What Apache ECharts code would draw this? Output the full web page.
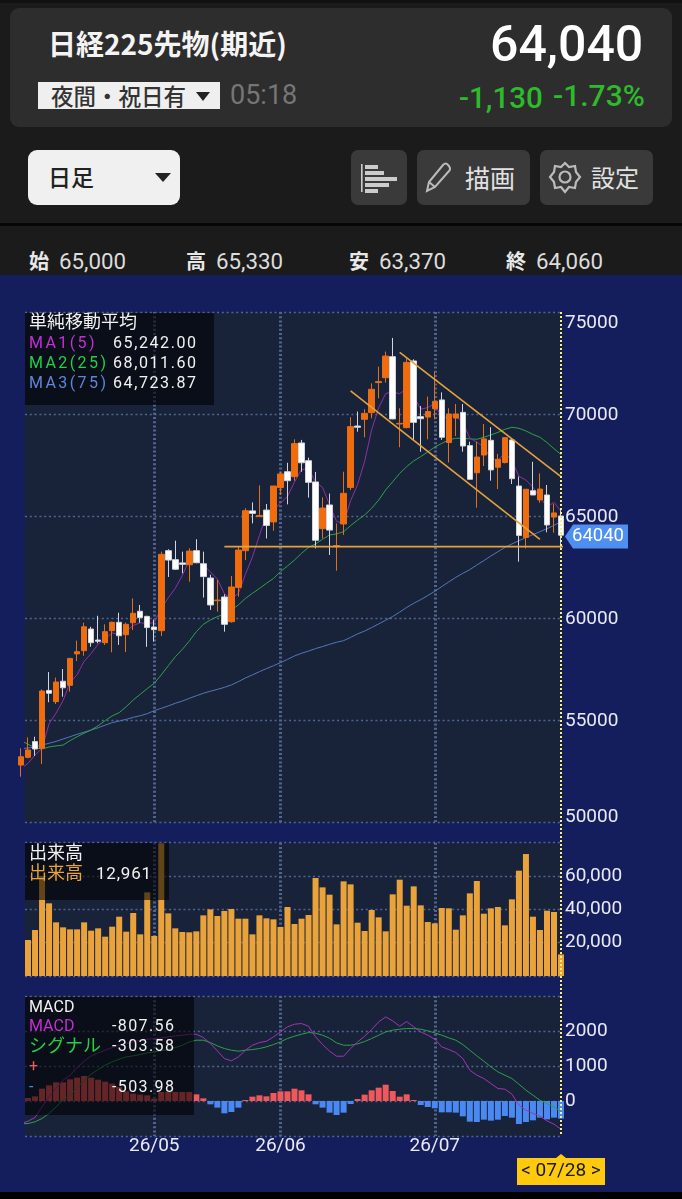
<!DOCTYPE html>
<html lang="ja"><head><meta charset="utf-8">
<script src="https://cdn.jsdelivr.net/npm/echarts@6/dist/echarts.min.js"></script>
<style>
html,body{margin:0;padding:0;background:#000;}
#wrap{position:relative;width:682px;height:1199px;overflow:hidden;font-family:Roboto,"Noto Sans CJK JP",sans-serif;}
#chart{position:absolute;left:0;top:0;width:682px;height:1199px;}
#head{position:absolute;left:0;top:0;width:682px;height:275px;background:#1b1b1b;}
#foot{position:absolute;left:0;top:1192px;width:682px;height:7px;background:#000;}
.a{position:absolute;white-space:nowrap;line-height:1;}
.jp{font-family:"Noto Sans CJK JP",sans-serif;}
.box{position:absolute;background:rgba(0,0,0,.58);}
.row{position:absolute;white-space:nowrap;font-size:16px;line-height:20px;letter-spacing:1.6px;color:#f2f2f2;font-family:Roboto,"Noto Sans CJK JP",sans-serif;}
.lab{letter-spacing:2.4px;}
.val{letter-spacing:1.4px;}
.btn{position:absolute;top:150px;height:55px;background:#3a3a3a;border-radius:7px;}
</style></head><body>
<div id="wrap">
<div id="chart"></div>
<div id="head">
 <div style="position:absolute;left:0;top:0;width:682px;height:3px;background:#111"></div>
 <div style="position:absolute;left:10px;top:8px;width:662px;height:119px;background:#2d2d2d;border-radius:9px"></div>
 <div class="a jp" style="left:48px;top:29px;font-size:28px;font-weight:700;color:#f4f4f4;">日経225先物(期近)</div>
 <div class="a" style="left:490px;top:19px;font-size:50px;font-weight:500;color:#fff">64,040</div>
 <div style="position:absolute;left:38px;top:82px;width:182px;height:27px;background:#efefef"></div>
 <div class="a jp" style="left:51px;top:84px;font-size:22.5px;font-weight:500;color:#333;">夜間・祝日有</div>
 <div style="position:absolute;left:196px;top:92px;width:0;height:0;border-left:7px solid transparent;border-right:7px solid transparent;border-top:9px solid #222"></div>
 <div class="a" style="left:230px;top:82px;font-size:27px;color:#767676;">05:18</div>
 <div class="a" style="left:459px;top:84px;font-size:29.5px;font-weight:500;color:#2dbb2b;">-1,130</div>
 <div class="a" style="left:553px;top:81px;font-size:30px;font-weight:500;color:#2dbb2b;">-1.73%</div>
 <div style="position:absolute;left:28px;top:150px;width:152px;height:55px;background:#f0f0f0;border-radius:9px"></div>
 <div class="a jp" style="left:48px;top:165px;font-size:23px;font-weight:500;color:#222">日足</div>
 <div style="position:absolute;left:155px;top:173px;width:0;height:0;border-left:8px solid transparent;border-right:8px solid transparent;border-top:9px solid #222"></div>
 <div class="btn" style="left:351px;width:56px"></div>
 <svg style="position:absolute;left:351px;top:150px" width="56" height="55"><rect x="10" y="14" width="1.6" height="28" fill="#ccc"/><rect x="14" y="15" width="13" height="4" fill="#ccc"/><rect x="14" y="21" width="19" height="4" fill="#ccc"/><rect x="14" y="27" width="32" height="4" fill="#ccc"/><rect x="14" y="33" width="24" height="4" fill="#ccc"/><rect x="14" y="39" width="13" height="4" fill="#ccc"/></svg>
 <div class="btn" style="left:417px;width:113px"></div>
 <svg style="position:absolute;left:422px;top:160px" width="34" height="36" fill="none" stroke="#bbb" stroke-width="2"><path d="M5 31 L7 22 L21 5 Q24 2 26 5 L27 6 Q29 9 27 11 L13 27 Z M7 22 L13 27"/></svg>
 <div class="a jp" style="left:465px;top:165px;font-size:25px;color:#e2e2e2">描画</div>
 <div class="btn" style="left:540px;width:113px"></div>
 <svg style="position:absolute;left:548px;top:160px" width="34" height="36" fill="none" stroke="#bbb" stroke-width="2.2"><path d="M17 3 L21 7 L27 6 L28 12 L32 17 L28 22 L27 28 L21 27 L17 32 L13 27 L7 28 L6 22 L2 17 L6 12 L7 6 L13 7 Z"/><circle cx="17" cy="17" r="5.5"/></svg>
 <div class="a jp" style="left:591px;top:165px;font-size:24px;color:#e2e2e2">設定</div>
 <div style="position:absolute;left:0;top:223px;width:682px;height:3px;background:#060606"></div>
 <div class="a jp" style="left:29px;top:251px;font-size:20px;font-weight:700;color:#e8e8e8">始</div><div class="a" style="left:59px;top:250px;font-size:22.3px;color:#dcdcdc">65,000</div>
 <div class="a jp" style="left:186px;top:251px;font-size:20px;font-weight:700;color:#e8e8e8">高</div><div class="a" style="left:216px;top:250px;font-size:22.3px;color:#dcdcdc">65,330</div>
 <div class="a jp" style="left:349px;top:251px;font-size:20px;font-weight:700;color:#e8e8e8">安</div><div class="a" style="left:379px;top:250px;font-size:22.3px;color:#dcdcdc">63,370</div>
 <div class="a jp" style="left:506px;top:251px;font-size:20px;font-weight:700;color:#e8e8e8">終</div><div class="a" style="left:536px;top:250px;font-size:22.3px;color:#dcdcdc">64,060</div>
</div>
<div id="foot"></div>

<div class="box" style="left:25px;top:313px;width:189px;height:92px"></div>
<div class="row" style="left:29px;top:312px;letter-spacing:0;font-size:18px">単純移動平均</div>
<div class="row lab" style="left:29px;top:333px;color:#c42ed4">MA1(5)</div><div class="row" style="left:113px;top:333px">65,242.00</div>
<div class="row lab" style="left:29px;top:353px;color:#22cf45">MA2(25)</div><div class="row" style="left:113px;top:353px">68,011.60</div>
<div class="row lab" style="left:29px;top:373px;color:#5e86d8">MA3(75)</div><div class="row" style="left:113px;top:373px">64,723.87</div>

<div class="box" style="left:25px;top:843px;width:144px;height:57px"></div>
<div class="row" style="left:29px;top:843px;letter-spacing:0;font-size:18px">出来高</div>
<div class="row" style="left:29px;top:863px;letter-spacing:0;font-size:18px;color:#e8a33a">出来高</div><div class="row" style="left:96px;top:863px;font-size:17px;letter-spacing:.8px">12,961</div>

<div class="box" style="left:25px;top:997px;width:169px;height:118px"></div>
<div class="row" style="left:29px;top:997px;letter-spacing:0">MACD</div>
<div class="row" style="left:29px;top:1016px;color:#c42ed4;letter-spacing:0">MACD</div><div class="row val" style="left:112px;top:1016px">-807.56</div>
<div class="row" style="left:29px;top:1036px;color:#22cf45;font-size:18px;letter-spacing:0">シグナル</div><div class="row val" style="left:112px;top:1036px">-303.58</div>
<div class="row" style="left:29px;top:1056px;color:#f05a5e">+</div>
<div class="row" style="left:29px;top:1077px;color:#4c8bf5">-</div><div class="row val" style="left:112px;top:1077px">-503.98</div>
</div>
<script>
// candles: [open, close, low, high] for the trading days 04/03 .. 07/28
const candles=[
[52790,53200,52220,53610],[53170,53530,53120,54150],[53940,53580,53240,54180],[53610,56420,52840,56500],
[56450,56310,55870,57350],[55900,56860,55780,57080],[56900,56580,56140,57500],[56700,58020,56390,58040],
[58240,58350,57890,58890],[58400,59570,58150,59770],[59460,58790,58590,59570],[58920,58860,58760,60110],
[58790,59330,58680,59690],[59380,59790,58320,59820],[59790,59130,58680,60260],[59180,59690,58330,59770],
[59770,60230,59410,60960],[60330,60020,59770,60640],[60080,59530,58590,60110],[59560,59430,58840,59900],
[59380,63120,59120,63250],[63300,62840,62010,63370],[62860,62390,62350,63790],[62700,62630,62190,63250],
[62610,63280,61780,63420],[63300,62710,62680,63860],[62660,62030,61000,63250],[61960,60640,60390,62120],
[60850,60880,60310,61860],[61030,59690,59330,61160],[59820,61520,59770,62060],[61500,63330,61050,63500],
[63300,65260,62840,65380],[65250,65130,64640,65670],[64970,65020,64970,66500],[65290,64540,63900,65590],
[64710,66470,64280,66470],[66400,67060,66030,67170],[67170,66730,65570,67610],[66930,68550,66730,68760],
[68580,67610,67170,68730],[67710,66650,65900,67860],[66670,63810,63410,67160],[64380,65390,63900,65910],
[65540,64310,63090,66100],[63500,63550,62320,64640],[64610,66110,64070,67170],[66400,69380,66270,69840],
[69410,69350,69130,70120],[69740,70030,68860,70230],[70070,71210,69790,71500],[71540,71590,70770,72320],
[71780,72840,71540,73060],[72810,69760,69740,73730],[69510,69540,68370,70280],[69330,72530,69300,72730],
[72600,69590,68730,72680],[69870,69770,68150,70390],[69850,70120,68760,70850],[70260,70620,69740,72080],
[70690,68860,68730,71060],[68600,70000,67620,70280],[69800,70000,68920,70490],[70080,68430,68150,70490],
[68450,66800,66800,68640],[67120,67890,65410,68640],[67990,68780,67450,69510],[68710,67260,66730,69350],
[67390,67780,66320,68040],[67620,68840,67580,68860],[68730,66830,66570,68810],[66470,64050,62760,66930],
[63950,66310,63410,66310],[66240,66030,66030,67660],[65790,66320,65650,67090],[66030,64560,64200,66520],
[64950,65150,64180,65590],[65000,64060,63370,65330]];
// moving averages: first entry is the day before the first candle
const ma1=[52550,52630,52875,53280,53610,54810,55340,55950,56840,57220,57880,58260,58720,58980,59270,59180,59360,59630,59770,59720,59780,60470,60990,61460,62080,62850,62770,62610,62260,61910,61190,60950,61210,62140,62990,64050,65060,65280,65640,65960,66670,67280,67320,66670,66400,65550,64740,64630,65750,66540,67680,69220,70310,71000,71090,70990,71250,70850,70240,70310,70530,69790,69870,69920,69580,68820,68620,68380,67830,67700,68110,67700,66950,66760,66410,65910,65450,65670,65240];
const ma2=[54180,53990,53810,53640,53580,53680,53730,53770,53990,54180,54350,54510,54720,54970,55200,55360,55650,55980,56260,56540,56800,57210,57660,58100,58460,58870,59330,59690,59900,60070,60180,60390,60640,60960,61210,61450,61700,61940,62270,62550,62840,63170,63460,63630,63860,64070,64120,64230,64530,64800,65050,65380,65780,66280,66680,67090,67420,67700,67910,68140,68380,68560,68730,68810,68810,68780,68760,68860,68970,69100,69250,69350,69300,69170,69000,68860,68600,68300,68010];
const ma3=[53560,53590,53630,53680,53770,53860,53950,54070,54180,54300,54400,54510,54620,54750,54870,54950,55030,55130,55210,55310,55460,55570,55690,55820,55930,56060,56190,56310,56410,56500,56600,56720,56880,57060,57210,57370,57520,57660,57810,57970,58140,58270,58380,58500,58600,58710,58810,58890,59050,59220,59360,59530,59710,59890,60070,60290,60520,60720,60900,61100,61310,61540,61770,61990,62190,62370,62600,62810,63040,63250,63460,63630,63790,63940,64090,64230,64380,64540,64720];
// volume from the second candle onward
const volume=[21600,27600,60000,43600,32200,29200,28000,28000,32200,27200,28600,23600,29600,35600,26600,37800,25000,50200,24000,79600,37600,28600,26400,26200,26800,36400,40000,36000,39000,40200,34400,34400,25000,36400,34600,34000,29400,41400,31200,34400,36600,58800,53200,48800,31000,56800,55000,32000,27000,39600,35200,26800,49000,57800,42200,53800,42400,32400,31600,40800,40600,27800,36400,49600,57000,37400,40600,41400,30400,46000,63200,73200,35600,27600,39200,38400,12961];
// MACD lines: first entry is the day before the first candle
const macd=[-672,-643,-576,-472,-167,119,357,595,737,956,1137,1290,1375,1451,1527,1594,1642,1689,1737,1766,1785,1804,1832,1861,1880,1908,1908,1813,1642,1432,1213,1147,1261,1451,1594,1670,1708,1832,1975,2118,2194,2213,2137,1832,1613,1423,1280,1280,1499,1689,1851,2042,2261,2403,2289,2137,2270,2118,1975,1880,1766,1547,1470,1385,1213,880,737,642,499,357,338,195,-119,-262,-357,-433,-567,-662,-808];
const signal=[-672,-653,-643,-595,-500,-357,-167,26,166,376,595,766,899,1023,1118,1194,1261,1290,1328,1375,1404,1432,1470,1527,1594,1689,1737,1737,1670,1575,1499,1451,1423,1451,1470,1499,1547,1613,1689,1785,1851,1908,1956,1937,1880,1794,1661,1594,1594,1632,1699,1785,1880,1975,2023,2051,2070,2070,2051,2004,1946,1880,1804,1737,1613,1451,1290,1137,975,833,737,642,480,309,166,23,-72,-167,-304];
// MACD histogram from the second candle onward
const histogram=[86,133,352,447,533,533,619,666,714,666,609,552,495,400,276,209,181,162,67,257,257,257,257,257,190,76,-95,-190,-352,-314,-190,29,124,162,133,228,276,276,352,305,190,-95,-190,-333,-400,-333,-86,57,181,305,381,466,286,124,190,29,-114,-171,-209,-324,-324,-333,-438,-590,-600,-533,-562,-533,-428,-476,-657,-600,-552,-476,-524,-476,-504];
const monthTicks=[19,37,59];
const monthLabels=['26/05','26/06','26/07'];
const lastDate='07/28';
const lastPrice=64040;
const supportLevel=63500;
const supportDays=[29,77.4];
// channel: [startDay, startPrice, endDay, endPrice]
const upperChannel=[54,73020,77,66930];
const lowerChannel=[47,71130,74,63860];
const priceTicks=[50000,75000,5000];
const volumeTicks=[0,80000,20000];
const macdTicks=[-1000,3000,1000];

const xMin=0.57,xMax=77;
const GRID='#52658f',BG='#18233a',NAVY='#151e5c',TXT='#e9e9f4',UP='#f36c0c',DOWN='#ffffff',TREND='#e3a23c';
const grids=[{top:312,height:510},{top:842.7,height:133.3},{top:996,height:140}].map(g=>({left:25,width:536,show:true,borderWidth:0,backgroundColor:BG,...g}));
const xAxes=[0,1,2].map(i=>({gridIndex:i,type:'value',min:xMin,max:xMax,
  axisLine:{show:false},
  axisTick:{show:false,customValues:monthTicks},
  axisLabel:{show:i===2,customValues:monthTicks,color:TXT,fontSize:19,margin:1,fontFamily:'Roboto',
    formatter:v=>monthLabels[monthTicks.indexOf(Math.round(v))]||''},
  splitLine:{show:true,lineStyle:{color:GRID,width:3,type:[2,2.2]}}}));
function yAxis(gridIndex,t,fmt,extra){return {gridIndex,type:'value',position:'right',min:t[0],max:t[1],interval:t[2],
  axisLine:{show:false},axisTick:{show:false},
  axisLabel:Object.assign({color:TXT,fontSize:19,margin:4,fontFamily:'Roboto',padding:[2,0,0,0],formatter:fmt},extra||{}),
  splitLine:{show:true,lineStyle:{color:GRID,width:1.4,type:[2,2.8]}}};}
const line=(name,vals,color,xi)=>({name,type:'line',xAxisIndex:xi,yAxisIndex:xi,data:vals.map((v,k)=>[k-1,v]),
  showSymbol:false,symbol:'none',clip:false,silent:true,z:1,lineStyle:{color,width:1}});
const trend=c=>[{coord:[c[0],c[1]]},{coord:[c[2],c[3]]}];

const chart=echarts.init(document.getElementById('chart'),null,{renderer:'canvas'});
chart.setOption({
  animation:false,backgroundColor:NAVY,
  grid:grids,xAxis:xAxes,
  yAxis:[
    yAxis(0,priceTicks,v=>v===75000?'{t|'+v+'}':v===50000?'{b|'+v+'}':String(v),
      {rich:{t:{padding:[20,0,0,0],fontSize:19,color:TXT,fontFamily:'Roboto'},b:{padding:[0,0,12,0],fontSize:19,color:TXT,fontFamily:'Roboto'}}}),
    yAxis(1,volumeTicks,v=>(v===0||v===80000)?'':v.toLocaleString('en-US')),
    yAxis(2,macdTicks,v=>(v<0||v===3000)?'':String(v))
  ],
  series:[
    line('MA3',ma3,'#5576b8',0),line('MA2',ma2,'#2f9f4c',0),line('MA1',ma1,'#8f2fa8',0),
    {name:'price',type:'candlestick',xAxisIndex:0,yAxisIndex:0,clip:false,silent:true,z:3,barWidth:6,
     encode:{x:0,y:[1,2,3,4]},
     data:candles.map((c,i)=>[i,...c]),
     itemStyle:{color:UP,color0:DOWN,borderColor:'#e0701c',borderColor0:'#d4d4da',borderWidth:1},
     markLine:{silent:true,symbol:'none',animation:false,label:{show:false},z:6,
       lineStyle:{color:TREND,width:1.6,type:'solid'},
       data:[trend(upperChannel),trend(lowerChannel)]}},
    {name:'support',type:'line',xAxisIndex:0,yAxisIndex:0,clip:false,silent:true,z:6,showSymbol:false,symbol:'none',
     data:supportDays.map(d=>[d,supportLevel]),lineStyle:{color:TREND,width:1.8}},
    {name:'volume',type:'bar',xAxisIndex:1,yAxisIndex:1,barWidth:6,clip:false,silent:true,
     data:volume.map((v,k)=>[k+1,v]),itemStyle:{color:'#e9a33a'}},
    line('signal',signal,'#2f9f4c',2),line('macd',macd,'#a035b8',2),
    {name:'histogram',type:'bar',xAxisIndex:2,yAxisIndex:2,barWidth:6,clip:false,silent:true,z:0,
     data:histogram.map((v,k)=>[k+1,v]),
     itemStyle:{color:p=>p.value[1]>=0?'#f0585c':'#4a88f2'}}
  ]
});
const xLast=chart.convertToPixel({xAxisIndex:0},77);
const yTag=chart.convertToPixel({yAxisIndex:0},lastPrice)+1;
const tagX=xLast+4;
chart.setOption({graphic:[
  {type:'line',z:50,silent:true,shape:{x1:xLast,y1:312,x2:xLast,y2:1136},style:{stroke:'#f6f07c',lineWidth:2,lineDash:[2,2]}},
  {type:'polygon',z:51,silent:true,shape:{points:[[tagX,yTag],[tagX+8,yTag-12],[tagX+63,yTag-12],[tagX+63,yTag+12],[tagX+8,yTag+12]]},style:{fill:'#4f8ff0'}},
  {type:'text',z:52,silent:true,x:tagX+7,y:yTag,style:{text:String(lastPrice),fill:'#fff',font:'18.5px Roboto',textAlign:'left',textVerticalAlign:'middle'}},
  {type:'polygon',z:51,silent:true,shape:{points:[[xLast-5,1158],[xLast,1154],[xLast+5,1158]]},style:{fill:'#ffc90e'}},
  {type:'rect',z:51,silent:true,shape:{x:517,y:1158,width:88,height:27},style:{fill:'#ffc90e'}},
  {type:'text',z:52,silent:true,x:xLast,y:1171.5,style:{text:'< '+lastDate+' >',fill:'#1a1a1a',font:'19px Roboto',textAlign:'center',textVerticalAlign:'middle'}}
]});
</script>
</body></html>
